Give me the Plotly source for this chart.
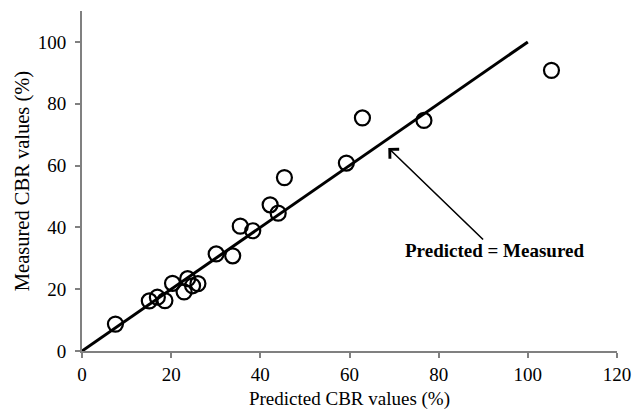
import plotly.graph_objects as go

predicted = [7.5, 15.1, 16.9, 18.6, 20.3, 22.9, 23.7, 24.8, 26.0, 30.1, 33.8, 35.5, 38.3, 42.2, 44.0, 45.4, 59.3, 62.9, 76.7, 105.3]
measured = [8.7, 16.2, 17.4, 16.3, 21.9, 19.1, 23.4, 21.1, 21.8, 31.4, 30.8, 40.4, 38.9, 47.3, 44.6, 56.1, 60.8, 75.4, 74.6, 90.8]
line_x = [0, 100]
line_y = [0, 100]

FONT = "Liberation Serif, Times New Roman, serif"

fig = go.Figure()
fig.add_trace(go.Scatter(x=line_x, y=line_y, mode="lines",
                         line=dict(color="black", width=3), showlegend=False))
fig.add_trace(go.Scatter(x=predicted, y=measured, mode="markers",
                         marker=dict(symbol="circle-open", size=15, color="black",
                                     line=dict(width=2.2, color="black")),
                         showlegend=False))

fig.add_annotation(x=68.7, y=65.7, ax=90.3, ay=35.6, xref="x", yref="y",
                   axref="x", ayref="y", showarrow=True, arrowhead=4,
                   arrowsize=1.6, arrowwidth=1.6, arrowcolor="black", text="")
fig.add_annotation(x=92.6, y=32.5, xref="x", yref="y", showarrow=False,
                   text="<b>Predicted = Measured</b>",
                   font=dict(family=FONT, size=19, color="black"))

axis_common = dict(showgrid=False, zeroline=False, showline=True,
                   linecolor="#808080", linewidth=2, ticks="outside",
                   tickcolor="#808080", ticklen=5, tickwidth=1.5,
                   tickfont=dict(family=FONT, size=19, color="black"))
fig.update_xaxes(range=[0, 120], dtick=20, tick0=0,
                 title=dict(text="Predicted CBR values (%)",
                            font=dict(family=FONT, size=19, color="black"), standoff=8),
                 **axis_common)
fig.update_yaxes(range=[0, 110], tickvals=[0, 20, 40, 60, 80, 100],
                 ticklabelstandoff=5,
                 title=dict(text="Measured CBR values (%)",
                            font=dict(family=FONT, size=20.5, color="black"), standoff=3),
                 **axis_common)

fig.update_layout(width=644, height=417, plot_bgcolor="white", paper_bgcolor="white",
                  margin=dict(l=82, r=27, t=11, b=66))
fig.write_html("out.html")
